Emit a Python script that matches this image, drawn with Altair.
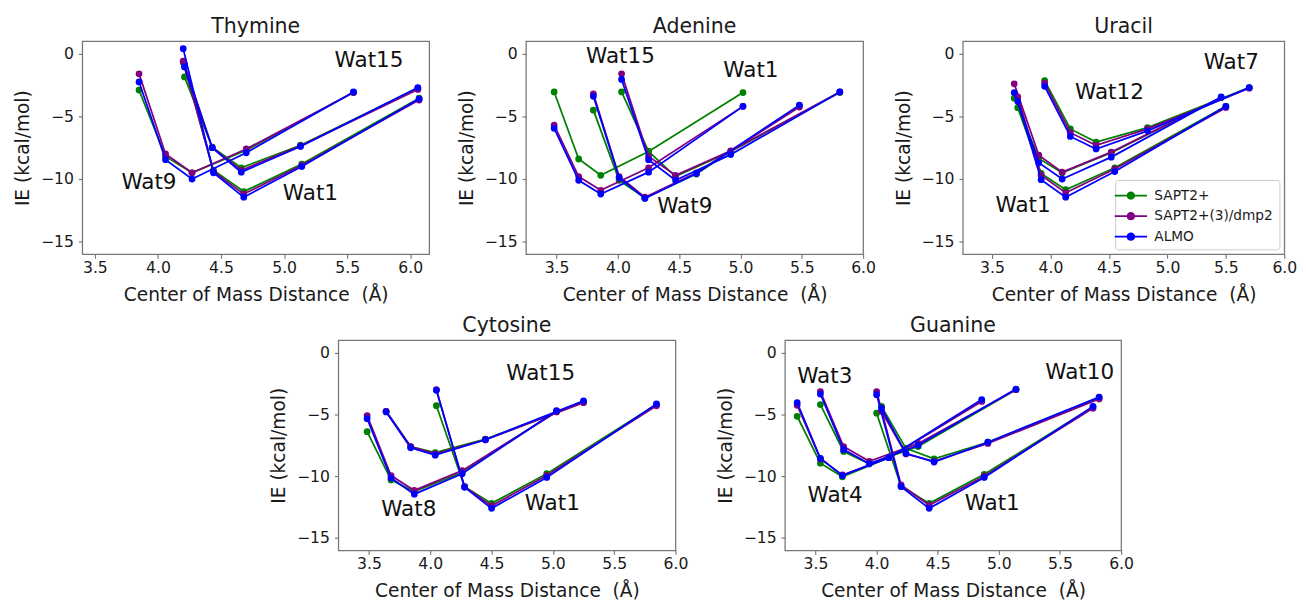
import altair as alt
import pandas as pd

METHODS = ["SAPT2+", "SAPT2+(3)/dmp2", "ALMO"]
COLORS = ["#008000", "#800080", "#0000ff"]
X_TICKS = [3.5, 4.0, 4.5, 5.0, 5.5, 6.0]
Y_TICKS = [0, -5, -10, -15]

# ---------------- Thymine ----------------
THY_WAT9_X = [3.85, 4.06, 4.27, 4.70, 5.55]
THY_WAT9_SAPT = [-2.9, -8.2, -9.5, -7.7, -3.1]
THY_WAT9_DMP2 = [-1.6, -8.0, -9.5, -7.6, -3.1]
THY_WAT9_ALMO = [-2.25, -8.45, -10.0, -7.9, -3.05]

THY_WAT1_X = [4.20, 4.44, 4.68, 5.14, 6.07]
THY_WAT1_SAPT = [-0.7, -9.3, -11.0, -8.8, -3.55]
THY_WAT1_DMP2 = [-0.6, -9.4, -11.2, -8.9, -3.7]
THY_WAT1_ALMO = [0.4, -9.5, -11.45, -9.0, -3.6]

THY_WAT15_X = [4.21, 4.43, 4.66, 5.13, 6.06]
THY_WAT15_SAPT = [-1.85, -7.45, -9.1, -7.3, -2.75]
THY_WAT15_DMP2 = [-0.85, -7.5, -9.3, -7.35, -2.85]
THY_WAT15_ALMO = [-1.05, -7.5, -9.45, -7.4, -2.7]

# ---------------- Adenine ----------------
ADE_A_X = [3.48, 3.68, 3.86, 4.25, 5.02]
ADE_A_SAPT = [-3.05, -8.4, -9.7, -7.8, -3.1]
ADE_A_DMP2 = [-5.7, -9.8, -10.9, -9.1, -4.2]
ADE_A_ALMO = [-5.95, -10.1, -11.2, -9.45, -4.2]

ADE_B_X = [3.80, 4.01, 4.22, 4.64, 5.48]
ADE_B_SAPT = [-4.5, -10.1, -11.5, -9.6, -4.15]
ADE_B_DMP2 = [-3.2, -9.8, -11.45, -9.5, -4.25]
ADE_B_ALMO = [-3.4, -9.9, -11.55, -9.55, -4.1]

ADE_C_X = [4.03, 4.25, 4.47, 4.92, 5.81]
ADE_C_SAPT = [-3.05, -7.8, -9.8, -7.8, -3.1]
ADE_C_DMP2 = [-1.6, -8.2, -9.7, -7.75, -3.05]
ADE_C_ALMO = [-2.05, -8.45, -10.1, -8.05, -3.05]

# ---------------- Uracil ----------------
URA_WAT7_X = [3.69, 3.90, 4.10, 4.52, 5.46]
URA_WAT7_SAPT = [-3.55, -8.35, -9.5, -7.9, -3.5]
URA_WAT7_DMP2 = [-2.4, -8.1, -9.45, -7.85, -3.5]
URA_WAT7_ALMO = [-3.1, -8.7, -10.0, -8.25, -3.45]

URA_WAT1_X = [3.72, 3.92, 4.13, 4.55, 5.50]
URA_WAT1_SAPT = [-4.3, -9.55, -10.85, -9.1, -4.2]
URA_WAT1_DMP2 = [-3.45, -9.7, -11.1, -9.2, -4.3]
URA_WAT1_ALMO = [-3.8, -10.05, -11.45, -9.4, -4.2]

URA_WAT12_X = [3.95, 4.17, 4.39, 4.83, 5.70]
URA_WAT12_SAPT = [-2.15, -6.0, -7.05, -5.9, -2.7]
URA_WAT12_DMP2 = [-2.35, -6.3, -7.3, -6.0, -2.75]
URA_WAT12_ALMO = [-2.6, -6.6, -7.6, -6.15, -2.7]

# ---------------- Cytosine ----------------
CYT_WAT8_X = [3.485, 3.68, 3.87, 4.26, 5.03]
CYT_WAT8_SAPT = [-6.4, -10.3, -11.25, -9.7, -4.75]
CYT_WAT8_DMP2 = [-5.1, -9.95, -11.15, -9.55, -4.8]
CYT_WAT8_ALMO = [-5.35, -10.15, -11.45, -9.8, -4.7]

CYT_WAT15_X = [3.64, 3.84, 4.04, 4.45, 5.25]
CYT_WAT15_SAPT = [-4.75, -7.6, -8.1, -7.0, -4.0]
CYT_WAT15_DMP2 = [-4.75, -7.6, -8.2, -7.05, -4.05]
CYT_WAT15_ALMO = [-4.8, -7.7, -8.3, -7.05, -3.9]

CYT_WAT1_X = [4.05, 4.28, 4.50, 4.95, 5.845]
CYT_WAT1_SAPT = [-4.3, -10.85, -12.2, -9.8, -4.2]
CYT_WAT1_DMP2 = [-3.0, -10.85, -12.4, -9.95, -4.3]
CYT_WAT1_ALMO = [-3.05, -10.9, -12.6, -10.1, -4.15]

# ---------------- Guanine ----------------
GUA_WAT4_X = [3.35, 3.54, 3.72, 4.10, 4.86]
GUA_WAT4_SAPT = [-5.15, -8.95, -10.05, -8.5, -3.9]
GUA_WAT4_DMP2 = [-4.25, -8.6, -9.9, -8.5, -3.95]
GUA_WAT4_ALMO = [-4.05, -8.55, -9.95, -8.5, -3.8]

GUA_WAT3_X = [3.54, 3.73, 3.94, 4.34, 5.14]
GUA_WAT3_SAPT = [-4.2, -8.0, -9.0, -7.6, -3.0]
GUA_WAT3_DMP2 = [-3.15, -7.6, -8.8, -7.35, -3.0]
GUA_WAT3_ALMO = [-3.35, -7.85, -9.0, -7.5, -2.95]

GUA_WAT1_X = [4.00, 4.20, 4.43, 4.88, 5.77]
GUA_WAT1_SAPT = [-4.9, -10.8, -12.2, -9.85, -4.4]
GUA_WAT1_DMP2 = [-3.15, -10.7, -12.35, -10.0, -4.5]
GUA_WAT1_ALMO = [-3.4, -10.85, -12.6, -10.1, -4.35]

GUA_WAT10_X = [4.04, 4.24, 4.47, 4.91, 5.82]
GUA_WAT10_SAPT = [-4.35, -7.75, -8.6, -7.25, -3.65]
GUA_WAT10_DMP2 = [-4.75, -8.2, -8.8, -7.35, -3.75]
GUA_WAT10_ALMO = [-4.5, -8.15, -8.85, -7.25, -3.6]

# ---------------- annotation labels ----------------
THY_LABELS = ["Wat15", "Wat9", "Wat1"]
THY_LABEL_X = [5.40, 3.71, 4.99]
THY_LABEL_Y = [-1.07, -10.78, -11.68]

ADE_LABELS = ["Wat15", "Wat1", "Wat9"]
ADE_LABEL_X = [3.74, 4.86, 4.32]
ADE_LABEL_Y = [-0.74, -1.87, -12.7]

URA_LABELS = ["Wat7", "Wat12", "Wat1"]
URA_LABEL_X = [5.31, 4.21, 3.53]
URA_LABEL_Y = [-1.24, -3.58, -12.64]

CYT_LABELS = ["Wat15", "Wat8", "Wat1"]
CYT_LABEL_X = [4.62, 3.60, 4.77]
CYT_LABEL_Y = [-2.18, -13.24, -12.76]

GUA_LABELS = ["Wat3", "Wat10", "Wat4", "Wat1"]
GUA_LABEL_X = [3.35, 5.38, 3.435, 4.72]
GUA_LABEL_Y = [-2.45, -2.11, -12.08, -12.74]


def curve_rows(curve, xs, sapt, dmp2, almo):
    rows = []
    for m, ys in zip(METHODS, [sapt, dmp2, almo]):
        for i, (x, y) in enumerate(zip(xs, ys)):
            rows.append({"curve": curve, "method": m, "x": x, "y": y, "idx": i})
    return rows


def make_df(*curves):
    rows = []
    for c in curves:
        rows += curve_rows(*c)
    return pd.DataFrame(rows)


LEGEND_PATH = ("M-1.65,-0.09L1.65,-0.09L1.65,0.09L-1.65,0.09Z"
               "M0.43,0A0.43,0.43,0,1,1,-0.43,0A0.43,0.43,0,1,1,0.43,0Z")


def panel(name, df, labels, lx, ly, xdom, width, height, show_legend=False):
    xenc = alt.X("x:Q", scale=alt.Scale(domain=xdom, nice=False, zero=False),
                 axis=alt.Axis(values=X_TICKS, format=".1f", labelFlush=False,
                               labelPadding=2, titlePadding=10,
                               title="Center of Mass Distance\u00a0 (Å)"))
    yenc = alt.Y("y:Q", scale=alt.Scale(domain=[-16, 1], nice=False, zero=False),
                 axis=alt.Axis(values=Y_TICKS, title="IE (kcal/mol)", labelFlush=False,
                               labelPadding=5, titlePadding=8,
                               labelExpr="replace(datum.label, '-', '\u2212')"))
    cscale = alt.Scale(domain=METHODS, range=COLORS)
    if show_legend:
        leg = alt.Legend(title=None, orient="bottom-right", offset=5, padding=6,
                         strokeColor="#cccccc", fillColor="white", cornerRadius=3,
                         labelFont="DejaVu Sans", labelFontSize=14, labelColor="#1a1a1a",
                         symbolType=LEGEND_PATH, symbolSize=400, labelOffset=14,
                         rowPadding=4, symbolOpacity=1, symbolStrokeWidth=0)
    else:
        leg = None
    layers = []
    for m, col in zip(METHODS, COLORS):
        sub = df[df["method"] == m]
        base = alt.Chart(sub)
        layers.append(base.mark_line(strokeWidth=1.8, color=col).encode(
            x=xenc, y=yenc, detail="curve:N", order="idx:Q"))
        layers.append(base.mark_point(filled=True, size=48, opacity=1).encode(
            x=xenc, y=yenc,
            color=alt.Color("method:N", scale=cscale, legend=leg)))
    ldf = pd.DataFrame({"label": labels, "x": lx, "y": ly})
    layers.append(alt.Chart(ldf).mark_text(align="left", baseline="alphabetic",
                                           font="DejaVu Sans", fontSize=22,
                                           color="#111111").encode(
        x=xenc, y=yenc, text="label:N"))
    return alt.layer(*layers).properties(
        width=width, height=height,
        title=alt.TitleParams(name, font="DejaVu Sans", fontSize=21,
                              fontWeight="normal", color="#1a1a1a", offset=4))


thy = panel("Thymine", make_df(("Wat9", THY_WAT9_X, THY_WAT9_SAPT, THY_WAT9_DMP2, THY_WAT9_ALMO),
                                ("Wat1", THY_WAT1_X, THY_WAT1_SAPT, THY_WAT1_DMP2, THY_WAT1_ALMO),
                                ("Wat15", THY_WAT15_X, THY_WAT15_SAPT, THY_WAT15_DMP2, THY_WAT15_ALMO)),
            THY_LABELS, THY_LABEL_X, THY_LABEL_Y, [3.4, 6.15], 355, 218)
ade = panel("Adenine", make_df(("A", ADE_A_X, ADE_A_SAPT, ADE_A_DMP2, ADE_A_ALMO),
                                ("B", ADE_B_X, ADE_B_SAPT, ADE_B_DMP2, ADE_B_ALMO),
                                ("C", ADE_C_X, ADE_C_SAPT, ADE_C_DMP2, ADE_C_ALMO)),
            ADE_LABELS, ADE_LABEL_X, ADE_LABEL_Y, [3.25, 6.0], 345, 218)
ura = panel("Uracil", make_df(("Wat7", URA_WAT7_X, URA_WAT7_SAPT, URA_WAT7_DMP2, URA_WAT7_ALMO),
                               ("Wat1", URA_WAT1_X, URA_WAT1_SAPT, URA_WAT1_DMP2, URA_WAT1_ALMO),
                               ("Wat12", URA_WAT12_X, URA_WAT12_SAPT, URA_WAT12_DMP2, URA_WAT12_ALMO)),
            URA_LABELS, URA_LABEL_X, URA_LABEL_Y, [3.25, 6.0], 329, 218, show_legend=True)
cyt = panel("Cytosine", make_df(("Wat8", CYT_WAT8_X, CYT_WAT8_SAPT, CYT_WAT8_DMP2, CYT_WAT8_ALMO),
                                 ("Wat15", CYT_WAT15_X, CYT_WAT15_SAPT, CYT_WAT15_DMP2, CYT_WAT15_ALMO),
                                 ("Wat1", CYT_WAT1_X, CYT_WAT1_SAPT, CYT_WAT1_DMP2, CYT_WAT1_ALMO)),
            CYT_LABELS, CYT_LABEL_X, CYT_LABEL_Y, [3.25, 6.0], 345, 215)
gua = panel("Guanine", make_df(("Wat4", GUA_WAT4_X, GUA_WAT4_SAPT, GUA_WAT4_DMP2, GUA_WAT4_ALMO),
                                ("Wat3", GUA_WAT3_X, GUA_WAT3_SAPT, GUA_WAT3_DMP2, GUA_WAT3_ALMO),
                                ("Wat1", GUA_WAT1_X, GUA_WAT1_SAPT, GUA_WAT1_DMP2, GUA_WAT1_ALMO),
                                ("Wat10", GUA_WAT10_X, GUA_WAT10_SAPT, GUA_WAT10_DMP2, GUA_WAT10_ALMO)),
            GUA_LABELS, GUA_LABEL_X, GUA_LABEL_Y, [3.25, 6.0], 344, 215)

spacer = alt.Chart(pd.DataFrame({"x": [0]})).mark_point(opacity=0).encode(
    x=alt.X("x:Q", axis=None), y=alt.Y("x:Q", axis=None)
).properties(width=163, height=215, view=alt.ViewBackground(stroke="transparent"))


def indep(c):
    return c.resolve_scale(x="independent", y="independent", color="independent") \
            .resolve_legend(color="independent")


top_left = indep(alt.hconcat(thy, ade, spacing=27))
top = indep(alt.hconcat(top_left, ura, spacing=17))
bottom = indep(alt.hconcat(spacer, cyt, gua, spacing=27))
chart = indep(alt.vconcat(top, bottom, spacing=10)).properties(
    padding={"left": 5, "top": 1, "right": 0, "bottom": 0}
).configure_view(stroke="#777777", strokeWidth=1.3).configure_axis(
    domain=False, grid=False, tickColor="#777777", tickSize=4, tickWidth=1.2,
    labelFont="DejaVu Sans", labelFontSize=16, labelColor="#1a1a1a",
    titleFont="DejaVu Sans", titleFontSize=19, titleFontWeight="normal",
    titleColor="#1a1a1a"
)

chart.save("out.html", embed_options={"renderer": "svg", "actions": False})
